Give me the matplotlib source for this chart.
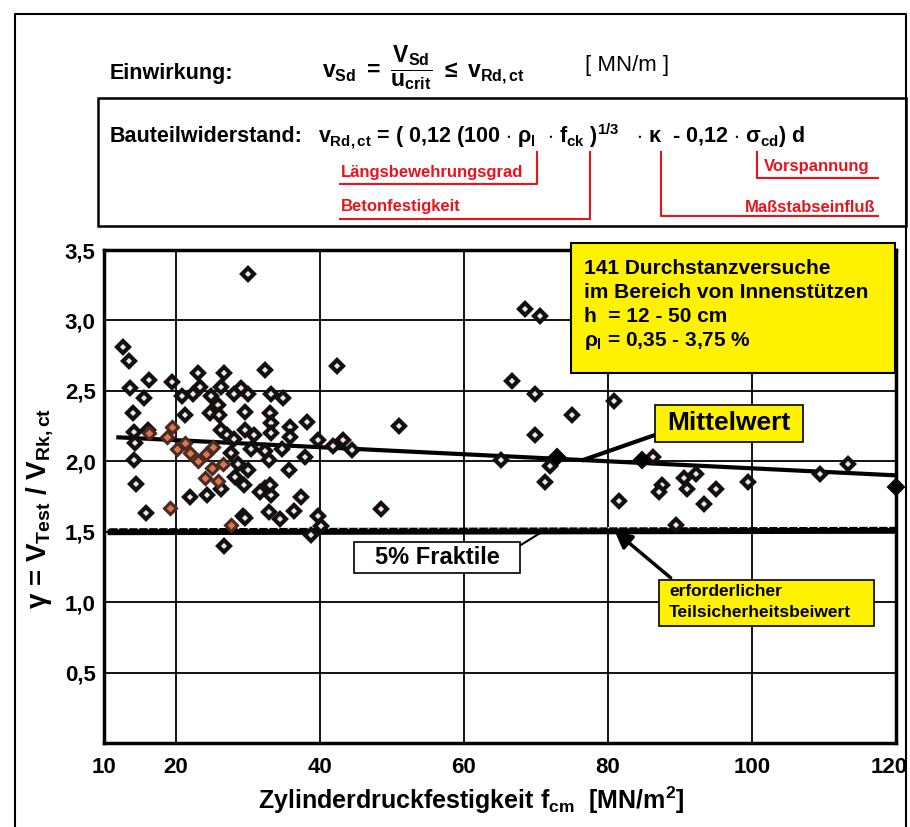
# Durchstanzversuche - Streuung gamma = V_Test / V_Rk,ct ueber f_cm
import matplotlib
matplotlib.use("Agg")
import matplotlib.pyplot as plt
from matplotlib.patches import Rectangle
from matplotlib.lines import Line2D
from matplotlib.transforms import ScaledTranslation

# --- data ---
test_x = [30.0, 12.7, 13.5, 16.3, 19.4, 23.0, 26.6, 32.3, 42.3, 13.6, 15.5, 20.8, 22.3,
          23.4, 24.8, 26.2, 28.1, 29.0, 30.0, 33.2, 34.9, 14.0, 21.3, 24.7, 25.8, 26.0,
          29.6, 33.1, 33.2, 35.8, 38.2, 14.2, 16.1, 14.3, 26.2, 27.1, 28.1, 29.6, 30.9,
          33.2, 35.9, 30.4, 32.3, 34.7, 37.9, 39.7, 41.8, 43.2, 44.4, 14.1, 27.6, 28.6,
          30.0, 32.9, 35.7, 28.2, 29.5, 14.5, 22.0, 24.3, 26.2, 32.3, 33.2, 37.3, 15.9,
          29.3, 32.9, 34.4, 36.4, 39.7, 40.2, 38.8, 26.7, 48.5, 51.0, 31.7, 33.0, 29.6,
          68.5, 70.6, 66.7, 69.8, 75.0, 69.8, 80.9, 65.1, 71.9, 71.3, 81.5, 86.3, 90.6,
          92.2, 87.5, 87.1, 91.0, 95.0, 93.3, 99.5, 89.4, 109.4, 113.4]
test_y = [3.33, 2.81, 2.71, 2.58, 2.56, 2.63, 2.63, 2.65, 2.68, 2.52, 2.45, 2.46, 2.48,
          2.53, 2.46, 2.53, 2.48, 2.52, 2.48, 2.48, 2.45, 2.34, 2.33, 2.34, 2.40, 2.33,
          2.35, 2.34, 2.27, 2.24, 2.28, 2.21, 2.22, 2.13, 2.22, 2.19, 2.16, 2.22, 2.19,
          2.20, 2.17, 2.09, 2.07, 2.09, 2.03, 2.15, 2.11, 2.15, 2.08, 2.01, 2.06, 1.98,
          1.94, 2.01, 1.94, 1.89, 1.83, 1.84, 1.75, 1.76, 1.80, 1.81, 1.76, 1.75, 1.63,
          1.61, 1.64, 1.59, 1.65, 1.61, 1.54, 1.48, 1.40, 1.66, 2.25, 1.78, 1.83, 1.60,
          3.08, 3.03, 2.57, 2.48, 2.33, 2.19, 2.43, 2.01, 1.97, 1.85, 1.72, 2.03, 1.88,
          1.91, 1.83, 1.78, 1.80, 1.80, 1.70, 1.85, 1.55, 1.91, 1.98]

# filled black diamonds
solid_x = [72.9, 84.7, 120.0]
solid_y = [2.03, 2.01, 1.82]

# coloured (overlaid) group
group_x = [16.2, 18.8, 19.5, 20.2, 21.2, 22.0, 23.0, 24.2, 25.0, 24.0, 25.8, 26.5, 25.2, 19.1, 27.6]
group_y = [2.20, 2.17, 2.24, 2.09, 2.13, 2.06, 2.00, 2.05, 1.95, 1.88, 1.86, 1.98, 2.10, 1.67, 1.55]

mean_x = [12, 120]
mean_y = [2.17, 1.90]
frac_x = [10.5, 120]
frac_y = [1.50, 1.51]

x_ticks = [10, 20, 40, 60, 80, 100, 120]
y_ticks = [0.5, 1.0, 1.5, 2.0, 2.5, 3.0, 3.5]
y_ticklabels = ["0,5", "1,0", "1,5", "2,0", "2,5", "3,0", "3,5"]

info_lines = ["141 Durchstanzversuche", "im Bereich von Innenstützen",
              "h  = 12 - 50 cm", r"$\rho_{\mathit{l}}$ = 0,35 - 3,75 %"]

# --- style ---
plt.rcParams["font.family"] = ["Liberation Sans", "DejaVu Sans"]
plt.rcParams["font.weight"] = "bold"
plt.rcParams["mathtext.fontset"] = "custom"
plt.rcParams["mathtext.rm"] = "Liberation Sans:bold"
plt.rcParams["mathtext.it"] = "Liberation Sans:bold"
plt.rcParams["mathtext.bf"] = "Liberation Sans:bold"
plt.rcParams["mathtext.sf"] = "Liberation Sans:bold"

RED = "#e8141c"
YEL = "#fff200"
W, H = 910, 827


def fx(px):
    return px / W


def fy(py):
    return 1 - py / H


fig = plt.figure(figsize=(9.1, 8.27), dpi=100)


def fline(xs, ys, color="k", lw=1.5):
    fig.add_artist(Line2D([fx(v) for v in xs], [fy(v) for v in ys],
                          transform=fig.transFigure, color=color, lw=lw))


# outer frame
fline([15, 15, 906, 906], [826, 14, 14, 826], lw=1.5)

# --- header formulas ---
fig.text(fx(110), fy(73), "Einwirkung:", fontsize=15.5, va="center")
fig.text(fx(322), fy(68),
         r"$v_{Sd}\ =\ \dfrac{V_{Sd}}{u_{crit}}\ \leq\ v_{Rd,ct}$",
         fontsize=16.5, va="center")
fig.text(fx(585), fy(66), "[ MN/m ]", fontsize=16, fontweight="normal", va="center")

fig.add_artist(Rectangle((fx(98), fy(226)), fx(906) - fx(98), fy(98) - fy(226),
                         transform=fig.transFigure, fill=False, ec="k", lw=1.8))
fig.text(fx(110), fy(137), "Bauteilwiderstand:", fontsize=15.5, va="center")
fig.text(fx(318), fy(136),
         r"$v_{Rd,ct}$ = ( 0,12 (100 $\cdot$ $\rho_{\mathit{l}}$  $\cdot$ f$_{ck}$ )$^{1/3}$"
         r"   $\cdot$ $\kappa$  - 0,12 $\cdot$ $\sigma_{cd}$) d",
         fontsize=15.5, va="center")

# red annotations
fline([537, 537, 340], [152, 184, 184], color=RED, lw=1.5)
fig.text(fx(341), fy(172), "Längsbewehrungsgrad", fontsize=12, color=RED, va="center")
fline([590, 590, 340], [152, 219, 219], color=RED, lw=1.5)
fig.text(fx(341), fy(207), "Betonfestigkeit", fontsize=12, color=RED, va="center")
fline([757, 757, 878], [152, 178, 178], color=RED, lw=1.5)
fig.text(fx(764), fy(166), "Vorspannung", fontsize=12, color=RED, va="center")
fline([661, 661, 878], [152, 216, 216], color=RED, lw=1.5)
fig.text(fx(876), fy(208), "Maßstabseinfluß", fontsize=12, color=RED, va="center", ha="right")

# --- main plot ---
ax = fig.add_axes([fx(104), fy(743), fx(896) - fx(104), fy(250) - fy(743)])
ax.set_xlim(10, 120)
ax.set_ylim(0, 3.5)
ax.set_xticks(x_ticks)
ax.set_yticks(y_ticks)
ax.set_yticklabels(y_ticklabels)
ax.grid(True, color="k", lw=1.3)
ax.set_axisbelow(True)
ax.tick_params(length=0, labelsize=16)
ax.tick_params(axis="x", pad=10)
ax.tick_params(axis="y", pad=6)
for s in ax.spines.values():
    s.set_linewidth(2.5)
# keep the last x label inside the figure
last = ax.get_xticklabels()[-1]
last.set_horizontalalignment("right")
last.set_transform(last.get_transform() + ScaledTranslation(0.12, 0, fig.dpi_scale_trans))

ax.plot(frac_x, frac_y, color="k", lw=5, zorder=3, solid_capstyle="butt")
ax.plot(frac_x, [v + 0.022 for v in frac_y], color="white", lw=1.0, zorder=3,
        dashes=(1.2, 6))
ax.plot(mean_x, mean_y, color="k", lw=3, zorder=4)

ax.plot(test_x, test_y, ls="none", marker="D", ms=6.5, mew=3, mfc="#f3e2e2",
        mec="#111111", zorder=5)
ax.plot(group_x, group_y, ls="none", marker="D", ms=6.5, mew=2.2, mfc="#d9774f",
        mec="#4a2a22", zorder=5)
ax.plot(solid_x, solid_y, ls="none", marker="D", ms=8, mew=1.5, mfc="k",
        mec="k", zorder=6, clip_on=False)

# info box
ax.add_patch(Rectangle((74.9, 2.63), 45.0, 0.92, fc=YEL, ec="k", lw=1.5,
                       zorder=7, clip_on=False))
for i, line in enumerate(info_lines):
    ax.text(76.6, 3.37 - i * 0.172, line, fontsize=15, va="center", zorder=8)

# Mittelwert
ax.add_patch(Rectangle((86.5, 2.14), 20.6, 0.26, fc=YEL, ec="k", lw=1.2, zorder=7))
ax.text(96.8, 2.27, "Mittelwert", fontsize=19, ha="center", va="center", zorder=8)
ax.plot([86.7, 76.6], [2.19, 2.01], color="k", lw=3, zorder=6)

# 5% Fraktile
ax.add_patch(Rectangle((44.7, 1.21), 23.1, 0.22, fc="white", ec="k", lw=1.2, zorder=7))
ax.text(56.3, 1.32, "5% Fraktile", fontsize=17, ha="center", va="center", zorder=8)
ax.plot([67.4, 71.5], [1.39, 1.52], color="k", lw=1.5, zorder=6)

# erforderlicher Teilsicherheitsbeiwert
ax.add_patch(Rectangle((87.1, 0.83), 29.8, 0.33, fc=YEL, ec="k", lw=1.2, zorder=7))
ax.text(88.5, 1.075, "erforderlicher", fontsize=12.5, va="center", zorder=8)
ax.text(88.5, 0.925, "Teilsicherheitsbeiwert", fontsize=12.5, va="center", zorder=8)
ax.annotate("", xy=(80.6, 1.52), xytext=(89.0, 1.16),
            arrowprops=dict(arrowstyle="-|>", color="k", lw=2.5, mutation_scale=26),
            zorder=8)

# axis labels
fig.text(fx(40), fy(508), r"$\gamma$ = V$_{Test}$ / V$_{Rk,ct}$", rotation=90,
         fontsize=20, ha="center", va="center")
fig.text(fx(471), fy(800), "Zylinderdruckfestigkeit f$_{cm}$  [MN/m$^2$]",
         fontsize=18, ha="center", va="center")

fig.savefig("out.png", dpi=100)
